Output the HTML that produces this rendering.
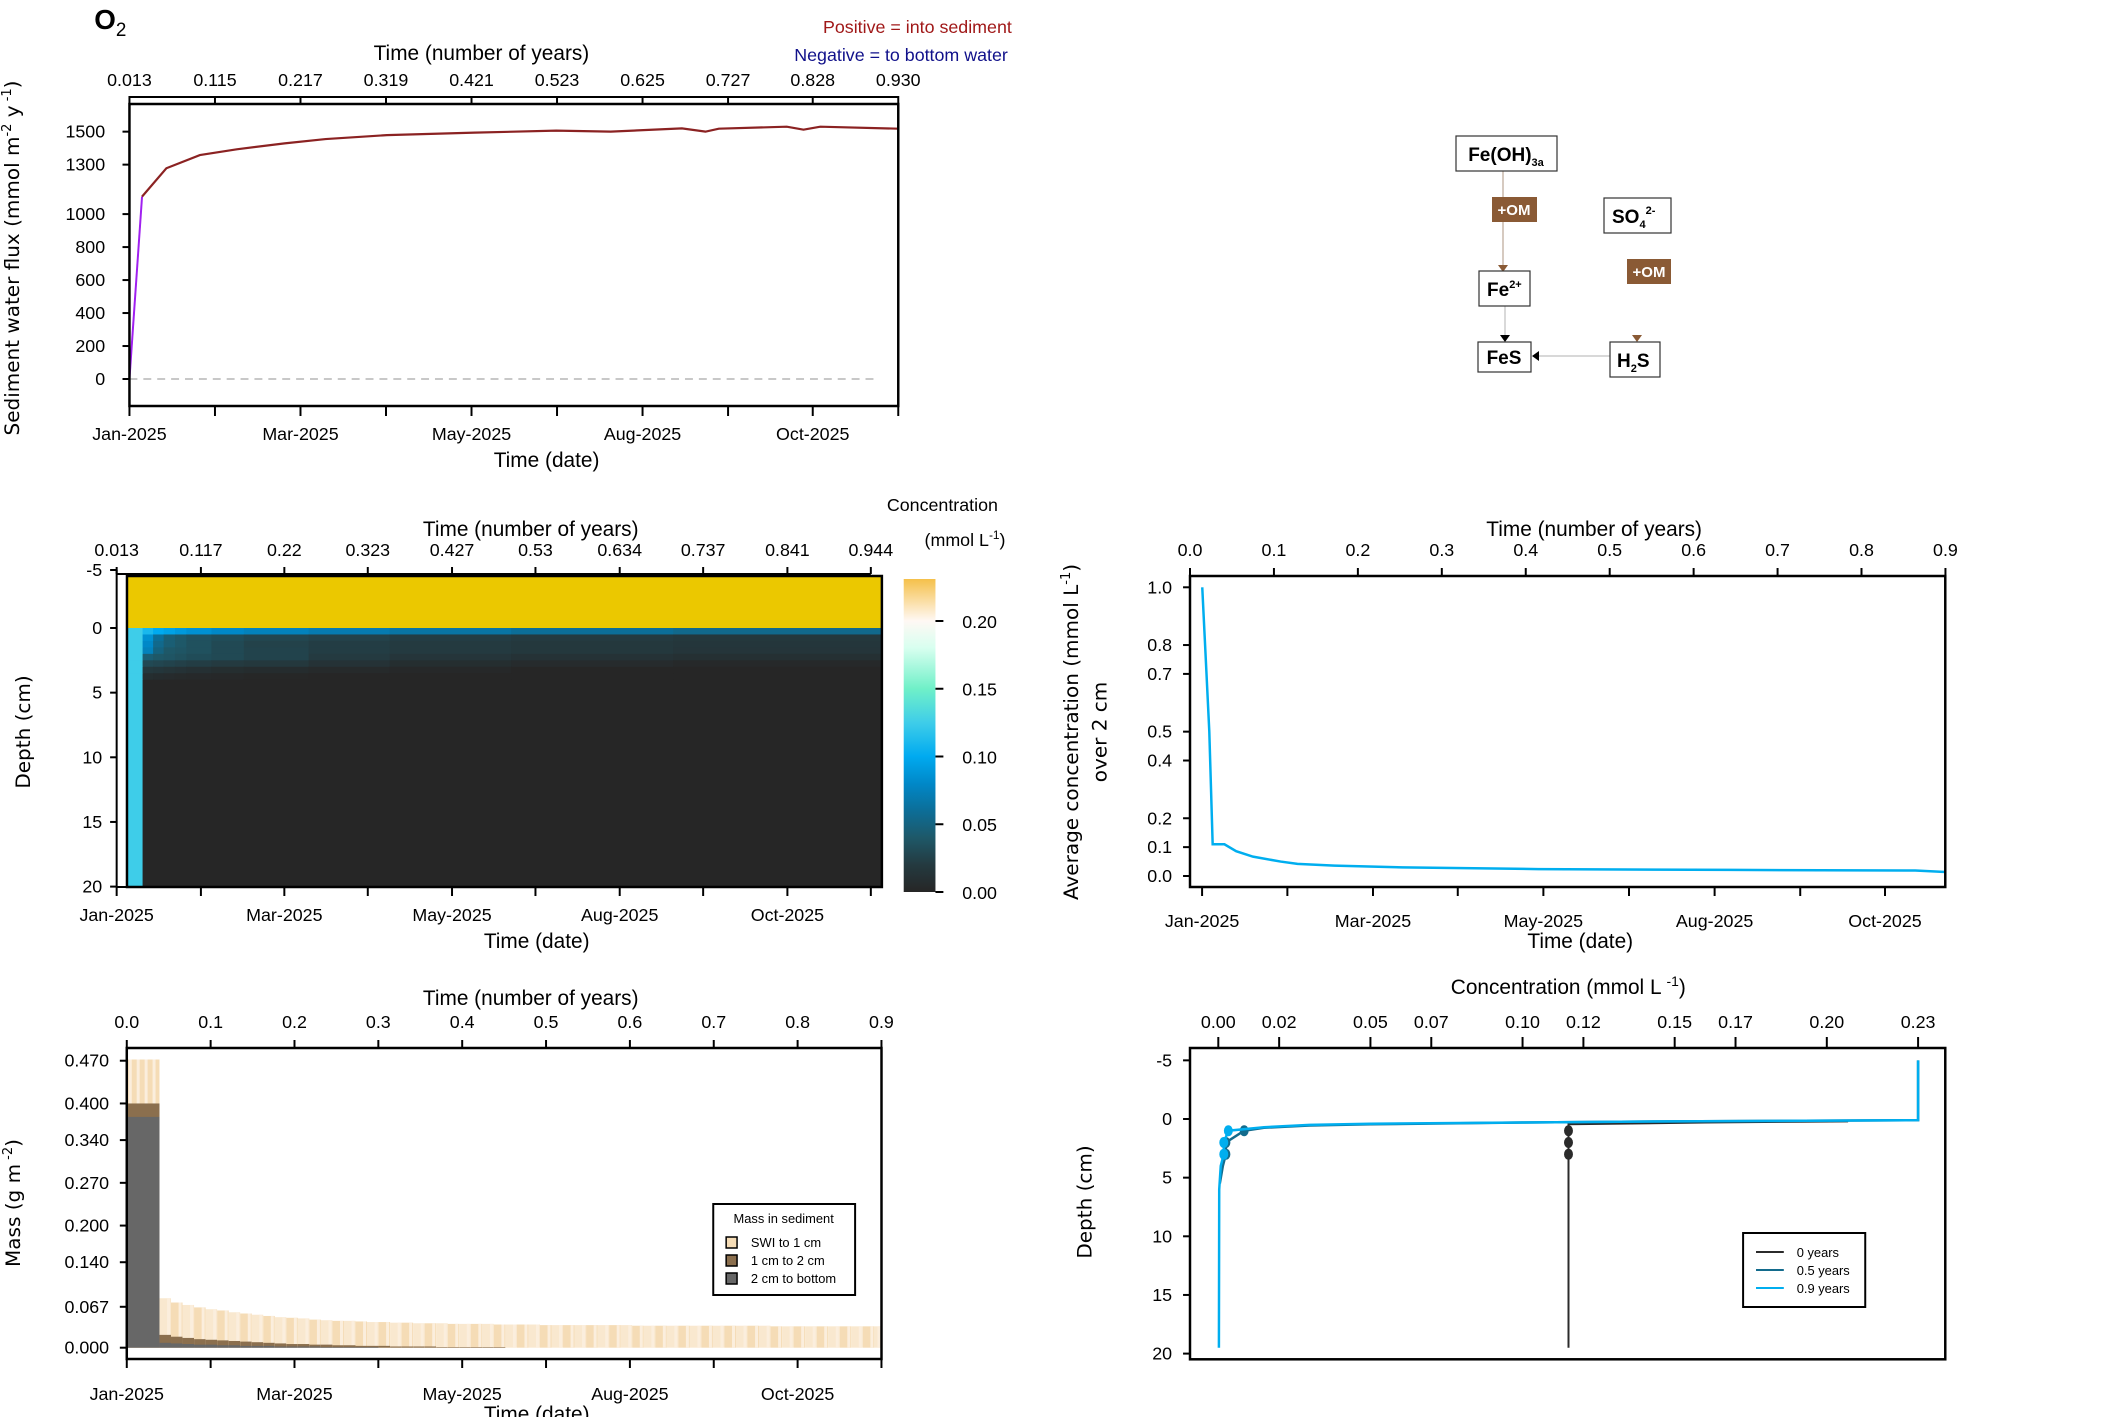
<!DOCTYPE html>
<html><head><meta charset="utf-8"><style>
html,body{margin:0;padding:0;background:#fff}
svg{display:block}
.t{font-family:"Liberation Sans Narrow","Liberation Sans",sans-serif;font-size:18px;fill:#000}
.tt{font-family:"Liberation Sans Narrow","Liberation Sans",sans-serif;font-size:21px;fill:#000}
.yl{font-family:"DejaVu Sans","Liberation Sans",sans-serif;font-size:20px;fill:#000}
.lg{font-family:"Liberation Sans Narrow","Liberation Sans",sans-serif;font-size:13px;fill:#000}
.dg{font-family:"Liberation Sans",sans-serif;font-weight:bold;font-size:19px;fill:#000}
</style></head><body>
<svg id="fig" xmlns="http://www.w3.org/2000/svg" width="2125" height="1417" viewBox="0 0 2125 1417">
<defs>
<linearGradient id="cbar" x1="0" y1="1" x2="0" y2="0">
<stop offset="0" stop-color="#262626"/><stop offset="0.087" stop-color="#243a40"/><stop offset="0.173" stop-color="#1e5868"/>
<stop offset="0.26" stop-color="#0c6e98"/><stop offset="0.346" stop-color="#0088c8"/><stop offset="0.433" stop-color="#00aaf0"/>
<stop offset="0.54" stop-color="#3ecde9"/><stop offset="0.65" stop-color="#70f0c8"/><stop offset="0.78" stop-color="#d8fff0"/>
<stop offset="0.866" stop-color="#fff8f4"/><stop offset="1" stop-color="#f5c04a"/>
</linearGradient>
</defs>
<g id="leftcol" transform="scale(0.992,1)">
<text x="95" y="29" style="font-family:'Liberation Sans',sans-serif;font-weight:bold;font-size:28px">O<tspan font-size="19" dy="7" font-weight="normal">2</tspan></text>
<text x="1020" y="33" text-anchor="end" fill="#a01818" style="font-family:'Liberation Sans Narrow','Liberation Sans',sans-serif;font-size:18px">Positive = into sediment</text>
<text x="1016" y="61" text-anchor="end" fill="#10108a" style="font-family:'Liberation Sans Narrow','Liberation Sans',sans-serif;font-size:18px">Negative = to bottom water</text>
<g id="p1"></g>
<g id="p2"></g>
<g id="p4"></g>
</g>
<g transform="translate(1190,0) scale(0.993,1) translate(-1190,0)">
<g id="p3"></g>
<g id="p5"></g>
</g>
<g id="diagram">
<line x1="1503" y1="171" x2="1503" y2="266" stroke="#c8b8aa" stroke-width="1.5"/>
<polygon points="1498,265 1508,265 1503,272" fill="#8a5a35"/>
<line x1="1505" y1="306" x2="1505" y2="336" stroke="#ccc" stroke-width="1.5"/>
<polygon points="1500,335 1510,335 1505,342" fill="#000"/>
<line x1="1610" y1="356" x2="1538" y2="356" stroke="#ccc" stroke-width="1.5"/>
<polygon points="1539,351 1539,361 1532,356" fill="#000"/>
<polygon points="1632,335 1642,335 1637,342" fill="#8a5a35"/>
<rect x="1456" y="136" width="101" height="35" fill="#fff" stroke="#333" stroke-width="1.2"/>
<text class="dg" x="1506" y="161" text-anchor="middle">Fe(OH)<tspan font-size="11" dy="5">3a</tspan></text>
<rect x="1492" y="197" width="45" height="25" fill="#8a5a35"/>
<text x="1514" y="215" text-anchor="middle" fill="#fff" style="font-family:'Liberation Sans',sans-serif;font-weight:bold;font-size:15px">+OM</text>
<rect x="1604" y="198" width="67" height="35" fill="#fff" stroke="#333" stroke-width="1.2"/>
<text class="dg" x="1612" y="223">SO<tspan font-size="11" dy="5">4</tspan><tspan font-size="11" dy="-14">2-</tspan></text>
<rect x="1627" y="259" width="44" height="25" fill="#8a5a35"/>
<text x="1649" y="277" text-anchor="middle" fill="#fff" style="font-family:'Liberation Sans',sans-serif;font-weight:bold;font-size:15px">+OM</text>
<rect x="1479" y="271" width="51" height="35" fill="#fff" stroke="#333" stroke-width="1.2"/>
<text class="dg" x="1487" y="296">Fe<tspan font-size="11" dy="-8">2+</tspan></text>
<rect x="1478" y="342" width="53" height="30" fill="#fff" stroke="#333" stroke-width="1.2"/>
<text class="dg" x="1504" y="364" text-anchor="middle">FeS</text>
<rect x="1610" y="342" width="50" height="35" fill="#fff" stroke="#333" stroke-width="1.2"/>
<text class="dg" x="1617" y="367">H<tspan font-size="11" dy="5">2</tspan><tspan dy="-5">S</tspan></text>
</g>
</svg>
<script>
const NS='http://www.w3.org/2000/svg';
function mk(tag,attrs,parent){const e=document.createElementNS(NS,tag);for(const k in attrs)e.setAttribute(k,attrs[k]);parent.appendChild(e);return e;}
function txt(s,attrs,parent){const e=mk('text',attrs,parent);e.textContent=s;return e;}

// Panel 1: flux
const fluxYears=[0.013,0.028,0.057,0.097,0.141,0.198,0.247,0.320,0.425,0.522,0.587,0.672,0.700,0.716,0.797,0.817,0.837,0.930];
const fluxValues=[0,1106,1278,1358,1393,1429,1455,1479,1494,1506,1500,1520,1500,1518,1530,1512,1530,1518];
const fluxYTicks=[0,200,400,600,800,1000,1300,1500];
const fluxYearTicks=[0.013,0.115,0.217,0.319,0.421,0.523,0.625,0.727,0.828,0.930];
const fluxYearLabels=['0.013','0.115','0.217','0.319','0.421','0.523','0.625','0.727','0.828','0.930'];
const dateLabels=['Jan-2025','Mar-2025','May-2025','Aug-2025','Oct-2025'];
// Panel 2: heatmap
const hmTimeEdges=[0.0257,0.045,0.058,0.071,0.085,0.099,0.13,0.17,0.25,0.35,0.5,0.7,0.958];
const hmDepthEdges=[0,0.5,1,1.5,2,2.5,3,3.5,4,20];
const hmValues=[
[0.125,0.11,0.10,0.095,0.09,0.085,0.08,0.075,0.07,0.065,0.06,0.055],
[0.125,0.085,0.06,0.045,0.04,0.035,0.032,0.028,0.025,0.022,0.02,0.018],
[0.125,0.08,0.055,0.045,0.04,0.035,0.03,0.025,0.022,0.02,0.018,0.016],
[0.125,0.075,0.05,0.04,0.038,0.035,0.03,0.026,0.022,0.02,0.018,0.015],
[0.125,0.045,0.04,0.038,0.035,0.032,0.03,0.026,0.02,0.015,0.012,0.01],
[0.125,0.03,0.028,0.026,0.024,0.022,0.02,0.018,0.012,0.008,0.005,0.003],
[0.125,0.018,0.016,0.014,0.012,0.01,0.008,0.006,0.004,0.002,0,0],
[0.125,0.008,0.006,0.005,0.004,0.003,0.002,0.001,0,0,0,0],
[0.125,0,0,0,0,0,0,0,0,0,0,0]];
const hmYearTicks=[0.013,0.117,0.22,0.323,0.427,0.53,0.634,0.737,0.841,0.944];
const hmYearLabels=['0.013','0.117','0.22','0.323','0.427','0.53','0.634','0.737','0.841','0.944'];
const hmDepthTicks=[-5,0,5,10,15,20];
const cbTicks=[0,0.05,0.10,0.15,0.20];
const cbLabels=['0.00','0.05','0.10','0.15','0.20'];
// Panel 3
const avgYears=[0.0146,0.020,0.023,0.027,0.041,0.055,0.075,0.108,0.128,0.172,0.253,0.415,0.645,0.864,0.9];
const avgValues=[1.0,0.68,0.50,0.11,0.11,0.086,0.067,0.050,0.042,0.036,0.030,0.024,0.021,0.019,0.014];
const avgYTicks=[0.0,0.1,0.2,0.4,0.5,0.7,0.8,1.0];
const avgYLabels=['0.0','0.1','0.2','0.4','0.5','0.7','0.8','1.0'];
const yearTicks9=[0.0,0.1,0.2,0.3,0.4,0.5,0.6,0.7,0.8,0.9];
const yearLabels9=['0.0','0.1','0.2','0.3','0.4','0.5','0.6','0.7','0.8','0.9'];
const avgDateTicks=[0.0144,0.116,0.218,0.319,0.421,0.523,0.625,0.727,0.828];
// Panel 4
const massFirstEnd=0.039, massStep=0.01375;
const massTotal=[0.472,
0.081,0.074,0.070,0.066,0.063,0.061,0.058,0.056,0.054,0.052,
0.050,0.049,0.048,0.046,0.045,0.044,0.044,0.043,0.042,0.042,
0.041,0.041,0.040,0.040,0.040,0.039,0.039,0.039,0.039,0.038,
0.038,0.038,0.038,0.037,0.037,0.037,0.037,0.037,0.037,0.037,
0.037,0.036,0.036,0.036,0.036,0.036,0.036,0.036,0.036,0.036,
0.036,0.036,0.036,0.035,0.035,0.035,0.035,0.035,0.035,0.035,
0.035,0.035,0.035];
const massTo2cm=[0.400,
0.021,0.018,0.016,0.014,0.013,0.012,0.011,0.010,0.009,0.008,
0.007,0.006,0.006,0.005,0.005,0.004,0.004,0.003,0.003,0.003,
0.002,0.002,0.002,0.002,0.001,0.001,0.001,0.001,0.001,0.001,
0,0,0,0,0,0,0,0,0,0,
0,0,0,0,0,0,0,0,0,0,
0,0,0,0,0,0,0,0,0,0,
0,0,0];
const massDeep=[0.378,
0.008,0.007,0.006,0.005,0.005,0.004,0.004,0.003,0.003,0.003,
0.002,0.002,0.002,0.002,0.001,0.001,0.001,0.001,0.001,0,
0,0,0,0,0,0,0,0,0,0,
0,0,0,0,0,0,0,0,0,0,
0,0,0,0,0,0,0,0,0,0,
0,0,0,0,0,0,0,0,0,0,
0,0,0];
const massYTicks=[0,0.067,0.140,0.200,0.270,0.340,0.400,0.470];
const massYLabels=['0.000','0.067','0.140','0.200','0.270','0.340','0.400','0.470'];
// Panel 5
const prof0Conc=[0.207,0.16,0.1151,0.1151,0.1151,0.1151,0.1151];
const prof0Depth=[0.2,0.3,0.45,1,2,3,19.5];
const prof05Conc=[0.23,0.23,0.15,0.10,0.05,0.03,0.015,0.0085,0.0025,0.0025,0.0015,0.0005];
const prof05Depth=[-5,0.1,0.2,0.3,0.45,0.55,0.75,1,2,3,4,5.5];
const prof09Conc=[0.23,0.23,0.15,0.10,0.05,0.03,0.015,0.0033,0.0018,0.0018,0.0008,0.0003,0.0002];
const prof09Depth=[-5,0.1,0.2,0.3,0.4,0.5,0.7,1,2,3,4,6,19.5];
const pointDepths=[1,2,3];
const prof0Points=[0.1151,0.1151,0.1151];
const prof05Points=[0.0085,0.0025,0.0025];
const prof09Points=[0.0033,0.0018,0.0018];
const concTicks=[0,0.02,0.05,0.07,0.10,0.12,0.15,0.17,0.20,0.23];
const concLabels=['0.00','0.02','0.05','0.07','0.10','0.12','0.15','0.17','0.20','0.23'];
const profDepthTicks=[-5,0,5,10,15,20];

function topAxis(g,ticks,labels,xf,y0,y1,ly){
  const ax=mk('line',{x1:xf(ticks[0]),x2:xf(ticks[ticks.length-1]),y1:y0,y2:y0,stroke:'#000','stroke-width':2},g);
  
  
  ticks.forEach((v,i)=>{
    const tk=mk('line',{x1:xf(v),x2:xf(v),y1:y0,y2:y1,stroke:'#000','stroke-width':2},g);
    
    
    const lb=txt(labels[i],{x:xf(v),y:ly,'text-anchor':'middle',class:'t'},g);
    
    
  });
}
function bottomTicks(g,ticks,xf,y0,y1,labelIdx,ly){
  const ax=mk('line',{x1:xf(ticks[0]),x2:xf(ticks[ticks.length-1]),y1:y0,y2:y0,stroke:'#000','stroke-width':2},g);
  
  
  ticks.forEach((v,i)=>{
    const tk=mk('line',{x1:xf(v),x2:xf(v),y1:y0,y2:y1,stroke:'#000','stroke-width':2},g);
    
    
  });
  labelIdx.forEach((ti,k)=>{
    const lb=txt(dateLabels[k],{x:xf(ticks[ti]),y:ly,'text-anchor':'middle',class:'t'},g);
    
    
  });
}
function leftAxis(g,ticks,labels,yf,x0,x1,lx){
  const ax=mk('line',{x1:x0,x2:x0,y1:yf(ticks[0]),y2:yf(ticks[ticks.length-1]),stroke:'#000','stroke-width':2},g);
  
  
  ticks.forEach((v,i)=>{
    const tk=mk('line',{x1:x0,x2:x1,y1:yf(v),y2:yf(v),stroke:'#000','stroke-width':2},g);
    
    
    const lb=txt(labels[i],{x:lx,y:yf(v)+6,'text-anchor':'end',class:'t'},g);
    
    
  });
}
function box(g,x0,y0,x1,y1){
  const r=mk('rect',{x:x0,y:y0,width:x1-x0,height:y1-y0,fill:'none',stroke:'#000','stroke-width':2.5},g);
  
  
}
function title(g,s,x,y,name){
  const t=txt(s,{x:x,y:y,'text-anchor':'middle',class:'tt'},g);
  
  
  return t;
}
function ylab(g,x,y,name,parts){
  const t=mk('text',{x:0,y:0,'text-anchor':'middle',class:'yl',transform:`translate(${x},${y}) rotate(-90)`},g);
  
  
  parts.forEach(p=>{const s=mk('tspan',p[1]||{},t);s.textContent=p[0];});
  return t;
}
function hex(c){return [parseInt(c.slice(1,3),16),parseInt(c.slice(3,5),16),parseInt(c.slice(5,7),16)];}
const cmapV=[0,0.02,0.04,0.06,0.08,0.10,0.125,0.15,0.18,0.20,0.232];
const cmapC=['#262626','#243a40','#1e5868','#0c6e98','#0088c8','#00aaf0','#3ecde9','#70f0c8','#d8fff0','#fff8f4','#f5c04a'];
function cmap(v){
  if(v<=cmapV[0])return cmapC[0];
  for(let i=1;i<cmapV.length;i++){if(v<=cmapV[i]){const t=(v-cmapV[i-1])/(cmapV[i]-cmapV[i-1]);const a=hex(cmapC[i-1]),b=hex(cmapC[i]);return 'rgb('+a.map((x,k)=>Math.round(x+(b[k]-x)*t)).join(',')+')';}}
  return cmapC[cmapC.length-1];
}

// Panel 1
(function(){
  const g=document.getElementById('p1');
  const L=130.5,R=905.5,T=104,B=406;
  const x=y=>L+(y-0.013)/0.917*(R-L);
  const yv=v=>379-v*0.1649;
  const dz=mk('line',{x1:L,x2:882,y1:yv(0),y2:yv(0),stroke:'#c8c8c8','stroke-width':2,'stroke-dasharray':'8,6'},g);
  
  
  const pu=mk('polyline',{points:`${x(fluxYears[0])},${yv(fluxValues[0])} ${x(fluxYears[1])},${yv(fluxValues[1])}`,fill:'none',stroke:'#a020f0','stroke-width':2},g);
  
  
  const pts=fluxYears.slice(1).map((yr,i)=>x(yr)+','+yv(fluxValues[i+1])).join(' ');
  const ln=mk('polyline',{points:pts,fill:'none',stroke:'#8b2222','stroke-width':2.2},g);
  
  
  box(g,L,T,R,B);
  topAxis(g,fluxYearTicks,fluxYearLabels,x,T-7,T-7,86);
  fluxYearTicks.forEach(v=>{const tk=mk('line',{x1:x(v),x2:x(v),y1:T,y2:T-8,stroke:'#000','stroke-width':2},g);});
  bottomTicks(g,fluxYearTicks,x,B,B+10,[0,2,4,6,8],440);
  leftAxis(g,fluxYTicks,fluxYTicks.map(String),yv,L,L-7,106);
  title(g,'Time (number of years)',x(0.421)+10,60,'top-x-axis-title');
  title(g,'Time (date)',551,467,'x-axis-title');
  ylab(g,19,258,'y-axis-title',[['Sediment water flux (mmol m'],['-2',{dy:-8,'font-size':13}],[' y',{dy:8}],[' -1',{dy:-8,'font-size':13}],[')',{dy:8}]]);
})();

// Panel 2
(function(){
  const g=document.getElementById('p2');
  const L=128,R=889,T=576,B=887;
  const x=y=>117.6+(y-0.013)*816.6;
  const yd=d=>d>=0?628+d*12.93:628+d*11.6;
  const w=mk('rect',{x:L,y:T,width:R-L,height:yd(0)-T,fill:'#ebc800'},g);
  
  
  hmValues.forEach((row,ri)=>{
    row.forEach((v,ci)=>{
      const x0=x(hmTimeEdges[ci]),x1=x(hmTimeEdges[ci+1]);
      const y0=yd(hmDepthEdges[ri]),y1=yd(hmDepthEdges[ri+1]);
      const c=mk('rect',{x:x0,y:y0,width:x1-x0+0.5,height:y1-y0+0.5,fill:cmap(v)},g);
      
      
    });
  });
  const fr=mk('rect',{x:L,y:T,width:R-L,height:B-T,fill:'none',stroke:'#000','stroke-width':2.5},g);
  
  
  topAxis(g,hmYearTicks,hmYearLabels,x,574,567,556);
  bottomTicks(g,hmYearTicks,x,887,896,[0,2,4,6,8],921);
  leftAxis(g,hmDepthTicks,hmDepthTicks.map(String),yd,117.6,111,103);
  title(g,'Time (number of years)',535,536,'top-x-axis-title');
  title(g,'Time (date)',541,948,'x-axis-title');
  ylab(g,30,732,'y-axis-title',[['Depth (cm)']]);
  const yc=v=>892-v*1355;
  const cb=mk('rect',{x:911,y:579,width:32,height:313,fill:'url(#cbar)'},g);
  
  
  cbTicks.forEach((v,i)=>{
    const tk=mk('line',{x1:943,x2:951,y1:yc(v),y2:yc(v),stroke:'#000','stroke-width':2},g);
    
    
    const lb=txt(cbLabels[i],{x:970,y:yc(v)+7,class:'t'},g);
    
    
  });
  const c1=txt('Concentration',{x:950,y:511,'text-anchor':'middle',class:'t'},g);
  
  
  const c2=mk('text',{x:932,y:546,class:'t'},g);
  
  
  c2.innerHTML='(mmol L<tspan dy="-7" font-size="12">-1</tspan><tspan dy="7">)</tspan>';
})();

// Panel 3
(function(){
  const g=document.getElementById('p3');
  const L=1190,R=1950.6,T=576,B=887;
  const x=y=>L+y*845.3;
  const yv=v=>876-v*288.7;
  const pts=avgYears.map((yr,i)=>x(yr)+','+yv(avgValues[i])).join(' ');
  const ln=mk('polyline',{points:pts,fill:'none',stroke:'#00aeef','stroke-width':2.5},g);
  
  
  box(g,L,T,R,B);
  topAxis(g,yearTicks9,yearLabels9,x,576,568,556);
  bottomTicks(g,avgDateTicks,x,887,896,[0,2,4,6,8],927);
  leftAxis(g,avgYTicks,avgYLabels,yv,L,L-7,1172);
  title(g,'Time (number of years)',1597,536,'top-x-axis-title');
  title(g,'Time (date)',1583,948,'x-axis-title');
  ylab(g,1077,732,'y-axis-title',[['Average concentration (mmol L'],['-1',{dy:-8,'font-size':13}],[')',{dy:8}]]);
  ylab(g,1106,732,'y-axis-title-line2',[['over 2 cm']]);
})();

// Panel 4
(function(){
  const g=document.getElementById('p4');
  const L=127.8,R=888.6,T=1048,B=1359;
  const x=y=>L+y*845.3;
  const yv=v=>1347.7-v*610.6;
  massTotal.forEach((tot,i)=>{
    const y0=i===0?0:massFirstEnd+(i-1)*massStep;
    const y1=Math.min(0.9,i===0?massFirstEnd:massFirstEnd+i*massStep);
    const x0=x(y0),x1=x(y1);
    const a=mk('rect',{x:x0,y:yv(tot),width:x1-x0,height:yv(0)-yv(tot),fill:i%2?'#f9e8cf':'#f5dcb6'},g);
    
    
    if(i===0){for(let s=0;s<4;s++){const st=mk('rect',{x:x0+2+s*8,y:yv(tot),width:3,height:yv(0)-yv(tot),fill:'#fbeedd'},g);}}
    else{const st=mk('rect',{x:x0+x1-x0-4,y:yv(tot),width:3,height:yv(0)-yv(tot),fill:'#fbeedd'},g);}
    if(massTo2cm[i]>0){
      const b=mk('rect',{x:x0,y:yv(massTo2cm[i]),width:x1-x0,height:yv(0)-yv(massTo2cm[i]),fill:'#8b6f4e'},g);
      
      
    }
    if(massDeep[i]>0){
      const c=mk('rect',{x:x0,y:yv(massDeep[i]),width:x1-x0,height:yv(0)-yv(massDeep[i]),fill:'#676767'},g);
      
      
    }
  });
  box(g,L,T,R,B);
  topAxis(g,yearTicks9,yearLabels9,x,1048,1040,1028);
  bottomTicks(g,yearTicks9,x,1359,1368,[0,2,4,6,8],1400);
  leftAxis(g,massYTicks,massYLabels,yv,L,L-7,110);
  title(g,'Time (number of years)',535,1005,'top-x-axis-title');
  title(g,'Time (date)',541,1421,'x-axis-title');
  ylab(g,20,1203,'y-axis-title',[['Mass (g m'],[' -2',{dy:-8,'font-size':13}],[')',{dy:8}]]);
  const lg=mk('g',{},g);
  
  
  const lb=mk('rect',{x:719,y:1204,width:143,height:91,fill:'#fff',stroke:'#000','stroke-width':2},lg);
  
  
  const lt=txt('Mass in sediment',{x:790,y:1223,'text-anchor':'middle',class:'lg'},lg);
  
  
  [['SWI to 1 cm','#f5dcb6'],['1 cm to 2 cm','#8b6f4e'],['2 cm to bottom','#676767']].forEach((e,i)=>{
    const sw=mk('rect',{x:732,y:1237+i*18,width:11,height:11,fill:e[1],stroke:'#000','stroke-width':1.5},lg);
    
    
    const t=txt(e[0],{x:757,y:1247+i*18,class:'lg'},lg);
    
    
  });
})();

// Panel 5
(function(){
  const g=document.getElementById('p5');
  const L=1190,R=1950.6,T=1048,B=1359.3;
  const x=c=>1218.5+c*3064;
  const yd=d=>1119+d*11.73;
  function prof(conc,dep,col,w,name){
    const pts=conc.map((c,i)=>x(c)+','+yd(dep[i])).join(' ');
    const p=mk('polyline',{points:pts,fill:'none',stroke:col,'stroke-width':w},g);
    
    
  }
  function dots(conc,col,name){
    conc.forEach((c,i)=>{
      const e=mk('ellipse',{cx:x(c),cy:yd(pointDepths[i]),rx:4.5,ry:5.5,fill:col},g);
      
      
    });
  }
  prof(prof0Conc,prof0Depth,'#2b2b2b',2,'profile-0-years');
  dots(prof0Points,'#2b2b2b','profile-0-years-point');
  prof(prof05Conc,prof05Depth,'#136b8c',2.5,'profile-0.5-years');
  dots(prof05Points,'#136b8c','profile-0.5-years-point');
  prof(prof09Conc,prof09Depth,'#00aeef',2.5,'profile-0.9-years');
  dots(prof09Points,'#00aeef','profile-0.9-years-point');
  box(g,L,T,R,B);
  topAxis(g,concTicks,concLabels,x,1048,1037,1028);
  leftAxis(g,profDepthTicks,profDepthTicks.map(String),yd,L,L-7,1172);
  const tt=mk('text',{x:1571,y:994,'text-anchor':'middle',class:'tt'},g);
  
  
  tt.innerHTML='Concentration (mmol L <tspan dy="-8" font-size="14">-1</tspan><tspan dy="8">)</tspan>';
  ylab(g,1091,1202,'y-axis-title',[['Depth (cm)']]);
  const lg=mk('g',{},g);
  
  
  const lb=mk('rect',{x:1747,y:1233,width:123,height:74,fill:'#fff',stroke:'#000','stroke-width':2},lg);
  
  
  [['0 years','#2b2b2b'],['0.5 years','#136b8c'],['0.9 years','#00aeef']].forEach((e,i)=>{
    const l=mk('line',{x1:1760,x2:1788,y1:1252+i*18,y2:1252+i*18,stroke:e[1],'stroke-width':2},lg);
    
    
    const t=txt(e[0],{x:1801,y:1257+i*18,class:'lg'},lg);
    
    
  });
})();
</script>
</body></html>
